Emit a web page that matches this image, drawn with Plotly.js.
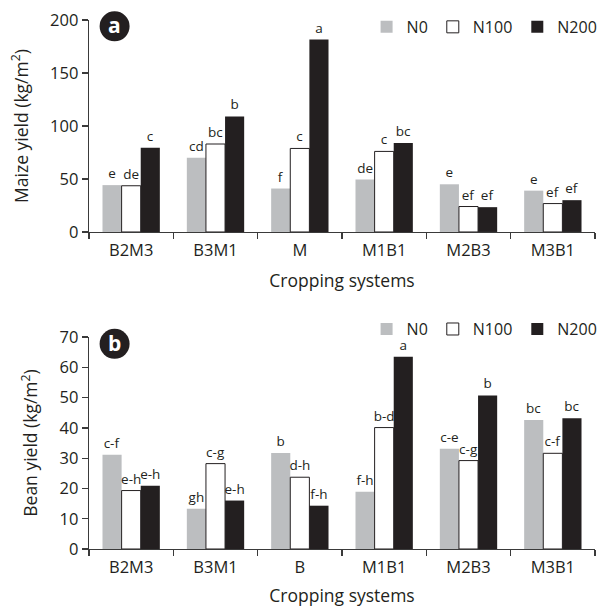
<!DOCTYPE html>
<html>
<head>
<meta charset="utf-8">
<script src="https://cdn.plot.ly/plotly-3.0.1.min.js"></script>
<style>html,body{margin:0;padding:0;background:#fff;}#chart{width:613px;height:611px;}</style>
</head>
<body>
<div id="chart"></div>
<script>
// ---- Data ----
const maizeCategories = ["B2M3", "B3M1", "M", "M1B1", "M2B3", "M3B1"];
const maizeN0   = [44.2, 70, 41, 49.5, 45, 39];
const maizeN100 = [43.6, 83, 78.8, 76, 24, 26.8];
const maizeN200 = [79.4, 109, 181.6, 84, 23.4, 30];
const maizeN0Letters   = ["e", "cd", "f", "de", "e", "e"];
const maizeN100Letters = ["de", "bc", "c", "c", "ef", "ef"];
const maizeN200Letters = ["c", "b", "a", "bc", "ef", "ef"];

const beanCategories = ["B2M3", "B3M1", "B", "M1B1", "M2B3", "M3B1"];
const beanN0   = [31.1, 13.3, 31.7, 18.9, 33.1, 42.6];
const beanN100 = [19.3, 28.2, 23.7, 40.1, 29.2, 31.6];
const beanN200 = [20.9, 16.0, 14.3, 63.5, 50.7, 43.2];
const beanN0Letters   = ["c-f", "gh", "b", "f-h", "c-e", "bc"];
const beanN100Letters = ["e-h", "c-g", "d-h", "b-d", "c-g", "c-f"];
const beanN200Letters = ["e-h", "e-h", "f-h", "a", "b", "bc"];

const seriesNames = ["N0", "N100", "N200"];
const yTitles = ["Maize yield (kg/m<sup>2</sup>)", "Bean yield (kg/m<sup>2</sup>)"];
const xTitle = "Cropping systems";
const panelLabels = ["a", "b"];

// ---- Styles ----
const FONT = "Open Sans, Noto Sans, sans-serif";
const INK = "#231f20";
const fills = ["#bcbec0", "#ffffff", INK];
const lineW = [0, 1, 0];

function mk(x, y, txt, i, xa, ya, leg) {
  return {
    type: "bar", x: x, y: y, name: seriesNames[i],
    xaxis: xa, yaxis: ya, legend: leg,
    marker: {color: fills[i], line: {color: INK, width: lineW[i]}},
    text: txt, textposition: "outside", cliponaxis: false, constraintext: "none",
    textfont: {family: FONT, size: 13.5, color: INK},
    hoverinfo: "x+y"
  };
}

const data = [
  mk(maizeCategories, maizeN0, maizeN0Letters, 0, "x", "y", "legend"),
  mk(maizeCategories, maizeN100, maizeN100Letters, 1, "x", "y", "legend"),
  mk(maizeCategories, maizeN200, maizeN200Letters, 2, "x", "y", "legend"),
  mk(beanCategories, beanN0, beanN0Letters, 0, "x2", "y2", "legend2"),
  mk(beanCategories, beanN100, beanN100Letters, 1, "x2", "y2", "legend2"),
  mk(beanCategories, beanN200, beanN200Letters, 2, "x2", "y2", "legend2")
];

const axLine = "#3a3a3a";
function xax(anchor, standoff) {
  return {
    anchor: anchor, domain: [0, 1], type: "category",
    showline: true, linecolor: axLine, linewidth: 1.3,
    ticks: "outside", tickson: "boundaries", ticklen: 6, tickcolor: axLine, tickwidth: 1.3,
    ticklabelstandoff: 3,
    tickfont: {family: FONT, size: 16.5, color: INK},
    showgrid: false, zeroline: false,
    title: {text: xTitle, font: {family: FONT, size: 17.5, color: INK}, standoff: standoff}
  };
}
function yax(anchor, domain, range, dtick, title) {
  return {
    anchor: anchor, domain: domain, range: range, dtick: dtick,
    showline: true, linecolor: axLine, linewidth: 1.3,
    ticks: "outside", ticklen: 6, tickcolor: axLine, tickwidth: 1.3,
    tickfont: {family: FONT, size: 16.5, color: INK},
    showgrid: false, zeroline: false,
    title: {text: title, font: {family: FONT, size: 17.5, color: INK}, standoff: 17}
  };
}

const legendBase = {
  orientation: "h", xanchor: "right", x: 1.015, yanchor: "middle",
  font: {family: FONT, size: 16, color: INK}, bgcolor: "rgba(0,0,0,0)",
  itemclick: false, itemdoubleclick: false, traceorder: "normal"
};

const layout = {
  width: 613, height: 611,
  margin: {l: 89, r: 10, t: 15, b: 62},
  paper_bgcolor: "#fff", plot_bgcolor: "#fff",
  barmode: "group", bargap: 0.32, bargroupgap: 0,
  showlegend: true,
  xaxis: xax("y", 14),
  yaxis: yax("x", [0.5993, 1], [0, 200], 50, yTitles[0]),
  xaxis2: xax("y2", 12),
  yaxis2: yax("x2", [0, 0.4007], [0, 70], 10, yTitles[1]),
  legend: Object.assign({}, legendBase, {y: 0.9869}),
  legend2: Object.assign({}, legendBase, {y: 0.4157}),
  shapes: [
    {type: "circle", xref: "paper", yref: "paper", xsizemode: "pixel", ysizemode: "pixel",
     xanchor: 0.0506, yanchor: 0.988, x0: -15, x1: 15, y0: -15, y1: 15,
     fillcolor: INK, line: {width: 0}},
    {type: "circle", xref: "paper", yref: "paper", xsizemode: "pixel", ysizemode: "pixel",
     xanchor: 0.0506, yanchor: 0.3878, x0: -15, x1: 15, y0: -15, y1: 15,
     fillcolor: INK, line: {width: 0}}
  ],
  annotations: [
    {xref: "paper", yref: "paper", x: 0.0506, y: 0.988, text: "<b>" + panelLabels[0] + "</b>",
     showarrow: false, xanchor: "center", yanchor: "middle", yshift: 1,
     font: {family: FONT, size: 21, color: "#fff"}},
    {xref: "paper", yref: "paper", x: 0.0506, y: 0.3878, text: "<b>" + panelLabels[1] + "</b>",
     showarrow: false, xanchor: "center", yanchor: "middle", yshift: 1,
     font: {family: FONT, size: 21, color: "#fff"}}
  ]
};

Plotly.newPlot("chart", data, layout, {staticPlot: true, displayModeBar: false});
</script>
</body>
</html>
